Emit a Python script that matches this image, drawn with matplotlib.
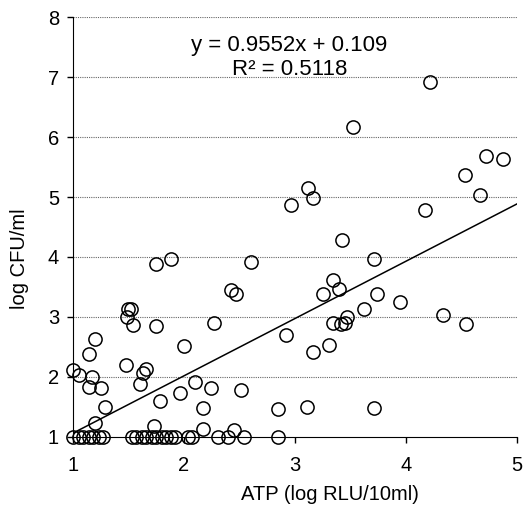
import numpy as np
import matplotlib
matplotlib.use("Agg")
import matplotlib.pyplot as plt

plt.rcParams['font.family'] = ['Liberation Sans', 'DejaVu Sans']

# ATP (log RLU/10ml) vs log CFU/ml
atp = [
    # samples at the detection limit (log CFU = 1)
    1.00, 1.05, 1.09, 1.14, 1.18, 1.23, 1.27, 1.53, 1.57, 1.62, 1.66, 1.71,
    1.75, 1.80, 1.84, 1.88, 1.92, 2.04, 2.07, 2.31, 2.40, 2.54, 2.85,
    # the rest
    1.20, 1.73, 2.17, 2.45,
    1.29, 1.78, 2.17, 2.85, 3.11, 3.71,
    1.14, 1.25, 1.60, 1.96, 2.10, 2.24, 2.51,
    1.00, 1.05, 1.17, 1.48, 1.63, 1.66,
    1.14, 1.20, 2.00, 3.16, 3.31,
    1.49, 1.50, 1.52, 1.54, 1.75, 2.27, 2.92,
    3.34, 3.41, 3.45, 3.47, 3.62, 3.95, 4.33, 4.54,
    3.25, 3.40, 3.74, 3.34, 2.42, 2.47,
    1.75, 1.88, 2.60, 3.71, 3.42,
    2.96, 3.12, 3.16, 4.17, 4.67, 4.53, 4.72, 4.87, 3.52, 4.22,
]
cfu = [
    1, 1, 1, 1, 1, 1, 1, 1, 1, 1, 1, 1,
    1, 1, 1, 1, 1, 1, 1, 1, 1, 1, 1,
    1.23, 1.18, 1.13, 1.12,
    1.50, 1.60, 1.48, 1.47, 1.50, 1.48,
    1.84, 1.81, 1.88, 1.73, 1.92, 1.81, 1.79,
    2.11, 2.03, 2.00, 2.20, 2.07, 2.14,
    2.39, 2.63, 2.51, 2.41, 2.54,
    3.00, 3.13, 3.13, 2.86, 2.85, 2.90, 2.70,
    2.90, 2.89, 2.90, 3.00, 3.14, 3.25, 3.03, 2.88,
    3.38, 3.46, 3.39, 3.61, 3.45, 3.39,
    3.89, 3.97, 3.92, 3.96, 4.28,
    4.87, 5.15, 4.98, 4.79, 5.04, 5.36, 5.69, 5.64, 6.17, 6.91,
]

slope = 0.9552
intercept = 0.109
r2 = 0.5118
x_ticks = [1, 2, 3, 4, 5]
y_ticks = [1, 2, 3, 4, 5, 6, 7, 8]

fig = plt.figure(figsize=(5.3, 5.05), dpi=100)
ax = fig.add_axes([0.1377, 0.1347, 0.9755 - 0.1377, 0.9663 - 0.1347])

for y in y_ticks[1:]:
    ax.axhline(y, color='#666666', linestyle=(0, (1, 1)), linewidth=0.8, zorder=0)

ax.plot(atp, cfu, 'o', markerfacecolor='none', markeredgecolor='black',
        markersize=9.5, markeredgewidth=1.1, linestyle='none', clip_on=False, zorder=3)

xl = np.array([1, 5])
ax.plot(xl, slope * xl + intercept, color='black', linewidth=1.1, zorder=2)

ax.text(0.487, 0.931, f"y = {slope}x + {intercept}", transform=ax.transAxes,
        ha='center', va='center', fontsize=16)
ax.text(0.487, 0.874, f"R² = {r2}", transform=ax.transAxes,
        ha='center', va='center', fontsize=16)

ax.set_xlim(1, 5)
ax.set_ylim(1, 8)
ax.set_xticks(x_ticks)
ax.set_yticks(y_ticks)
ax.tick_params(direction='out', length=4, width=1, labelsize=14.5, pad=6)
ax.tick_params(axis='x', pad=10)
ax.spines['top'].set_visible(False)
ax.spines['right'].set_visible(False)
ax.set_xlabel("ATP (log RLU/10ml)", fontsize=14.5)
ax.set_ylabel("log CFU/ml", fontsize=14.5, va='center')
ax.xaxis.set_label_coords(0.579, -0.115)
ax.yaxis.set_label_coords(-0.12, 0.425)

fig.savefig("out.png", dpi=100)
